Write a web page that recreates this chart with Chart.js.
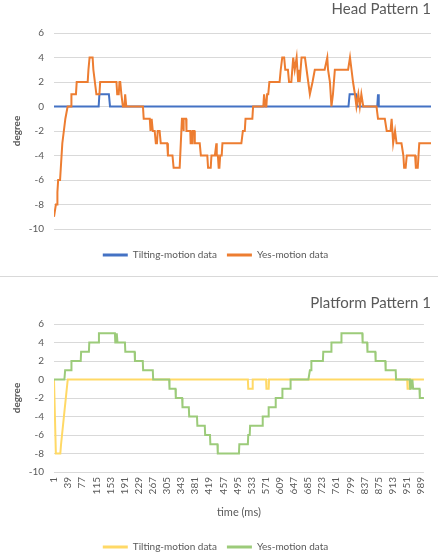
<!DOCTYPE html>
<html><head><meta charset="utf-8">
<script src="https://cdn.jsdelivr.net/npm/chart.js@4"></script>
<style>
html,body{margin:0;padding:0;width:438px;height:556px;overflow:hidden;background:#fff;}
#c1{position:absolute;left:0;top:0;}
#c2{position:absolute;left:0;top:277px;}
#sep{position:absolute;left:0;top:276px;width:438px;height:1px;background:#d9d9d9;}
</style></head><body>
<canvas id="c1" width="438" height="276"></canvas>
<div id="sep"></div>
<canvas id="c2" width="438" height="300"></canvas>
<script>
const timeTicks = [1,39,77,115,153,191,229,267,305,343,381,419,457,495,533,571,609,647,685,723,761,799,837,875,913,951,989];
const yTicks = [-10,-8,-6,-4,-2,0,2,4,6];

// Head Pattern 1
const headTiltT = [1,119,121,146,149,779,782,799,802,855,857,859,997];
const headTiltV = [0,0,1,1,0,0,1,1,0,0,1,0,0];
const headYesT = [
 1,6,9,10,12,17,21,23,27,31,
 37,46,47,59,61,90,92,95,103,105,
 109,113,121,123,166,168,172,174,176,179,
 183,187,189,192,236,238,254,256,259,262,
 267,270,273,275,280,283,300,302,314,317,
 333,339,342,343,344,350,351,361,362,366,
 367,372,373,386,389,406,408,415,417,426,
 430,431,434,436,438,440,444,446,496,500,
 505,507,525,527,554,556,558,560,562,564,
 567,570,597,600,604,609,612,619,622,628,
 633,637,642,646,649,650,655,664,677,684,
 690,716,723,725,730,734,738,743,778,783,
 787,791,796,800,805,809,813,818,853,857,
 875,880,890,893,897,902,906,919,924,926,
 930,933,955,957,962,964,966,997];
const headYesV = [
 -9,-8,-8,-7,-6,-6,-4,-3,-2,-1,
 0,0,1,1,2,2,3,4,4,3,
 2,1,1,2,2,1,1,2,2,1,
 0,0,1,0,0,-1,-1,-2,-1,-2,
 -2,-3,-3,-2,-2,-3,-3,-4,-4,-5,
 -5,-1,-1,-2,-1,-1,-2,-2,-3,-3,
 -2,-2,-3,-3,-4,-4,-5,-5,-4,-4,
 -3,-4,-4,-5,-5,-4,-4,-3,-3,-2,
 -2,-1,-1,0,0,1,1,0,0,1,
 1,2,2,3,4,4,3,3,2,2,
 4,3,4,2,3,2,4,4,1,2,
 3,3,4,3,2,0,1,3,3,4,
 3,2,1,0,1,0,1,0,0,-1,
 -1,-2,-2,-1,-3,-2,-3,-3,-4,-5,
 -5,-4,-4,-5,-5,-4,-3,-3];

// Platform Pattern 1
const platTiltT = [1,3,6,18,20,38,523,524,535,536,572,573,579,580,952,953,958,959,997];
const platTiltV = [0,0,-8,-8,-7,0,0,-1,-1,0,0,-1,-1,0,0,-1,-1,0,0];
const platYesT = [
 1,29,31,47,48,73,74,95,96,121,
 122,165,166,167,169,170,172,192,193,218,
 219,240,241,267,268,311,312,328,329,346,
 347,364,365,386,387,407,408,421,422,441,
 442,499,500,523,524,528,529,562,563,578,
 579,597,598,615,616,637,638,686,690,693,
 694,725,726,747,748,774,775,831,832,844,
 845,866,867,893,894,921,922,959,960,961,
 962,963,964,966,968,985,986,997];
const platYesV = [
 0,0,1,1,2,2,3,3,4,4,
 5,5,4,5,4,5,4,4,3,3,
 2,2,1,1,0,0,-1,-1,-2,-2,
 -3,-3,-4,-4,-5,-5,-6,-6,-7,-7,
 -8,-8,-7,-7,-6,-6,-5,-5,-4,-4,
 -3,-3,-2,-2,-1,-1,0,0,1,1,
 2,2,3,3,4,4,5,5,4,4,
 3,3,2,2,1,1,0,0,-1,0,
 -1,0,-1,0,-1,-1,-2,-2];

const FONT = "Lato, 'Open Sans', sans-serif";
const GREY = '#595959';
Chart.defaults.font.family = FONT;
Chart.defaults.color = GREY;

function pts(T, V){ return T.map((t,i)=>({x:t, y:V[i]})); }

function makeChart(id, cfg){
  const ds = (label, T, V, color, order) => ({
    label, data: pts(T,V), borderColor: color, backgroundColor: color,
    borderWidth: 2, pointRadius: 0, tension: 0, order
  });
  return new Chart(document.getElementById(id), {
    type: 'line',
    data: { datasets: [
      ds('Tilting-motion data', cfg.tT, cfg.tV, cfg.c1, 1),
      ds('Yes-motion data', cfg.yT, cfg.yV, cfg.c2, 0)
    ]},
    options: {
      responsive: false, animation: false, devicePixelRatio: 1,
      layout: { padding: { left: 0, right: 7, top: 0, bottom: cfg.padBottom } },
      plugins: {
        tooltip: { enabled: false },
        title: { display: true, text: cfg.title, align: 'end', color: GREY,
          font: { size: 15, weight: 'normal', family: FONT },
          padding: { top: cfg.titleTop, bottom: cfg.titleBottom } },
        legend: { position: 'bottom',
          labels: { boxWidth: 25, boxHeight: 3, padding: 10, color: GREY,
            font: { size: 10, family: FONT },
            sort: (a,b) => a.datasetIndex - b.datasetIndex,
            generateLabels: (chart) => {
              const items = Chart.defaults.plugins.legend.labels.generateLabels(chart);
              items.forEach(it => { it.lineWidth = 0; });
              return items;
            } } }
      },
      scales: {
        x: {
          type: 'linear', min: 1, max: 997,
          afterBuildTicks: (s) => { s.ticks = timeTicks.map(v => ({ value: v })); },
          afterFit: (s) => { s.height = cfg.xHeight; },
          grid: { display: false, drawTicks: false },
          border: { display: false },
          ticks: { display: cfg.showX, autoSkip: false, minRotation: 90, maxRotation: 90,
            padding: 5, color: GREY, font: { size: 10, family: FONT },
            callback: (v) => String(v) },
          title: { display: cfg.showX, text: 'time (ms)', color: GREY,
            font: { size: 11, family: FONT }, padding: { top: 0, bottom: 13 } }
        },
        y: {
          min: -10, max: 6,
          afterBuildTicks: (s) => { s.ticks = yTicks.map(v => ({ value: v })); },
          afterFit: (s) => { s.width = 54; },
          grid: { color: '#d9d9d9', lineWidth: 1, drawTicks: false },
          border: { display: false },
          ticks: { padding: 10, color: GREY, font: { size: 10, family: FONT } },
          title: { display: true, text: 'degree', color: GREY,
            font: { size: 10, weight: 'bold', family: FONT }, padding: { top: 11, bottom: 0 } }
        }
      }
    }
  });
}

makeChart('c1', { title: 'Head Pattern 1', tT: headTiltT, tV: headTiltV, yT: headYesT, yV: headYesV,
  c1: '#4472C4', c2: '#ED7D31', showX: false, xHeight: 11, padBottom: 6, titleTop: 0, titleBottom: 15 });
makeChart('c2', { title: 'Platform Pattern 1', tT: platTiltT, tV: platTiltV, yT: platYesT, yV: platYesV,
  c1: '#FFD966', c2: '#9CCB7A', showX: true, xHeight: 60, padBottom: 15, titleTop: 17, titleBottom: 12 });
</script>
</body></html>
